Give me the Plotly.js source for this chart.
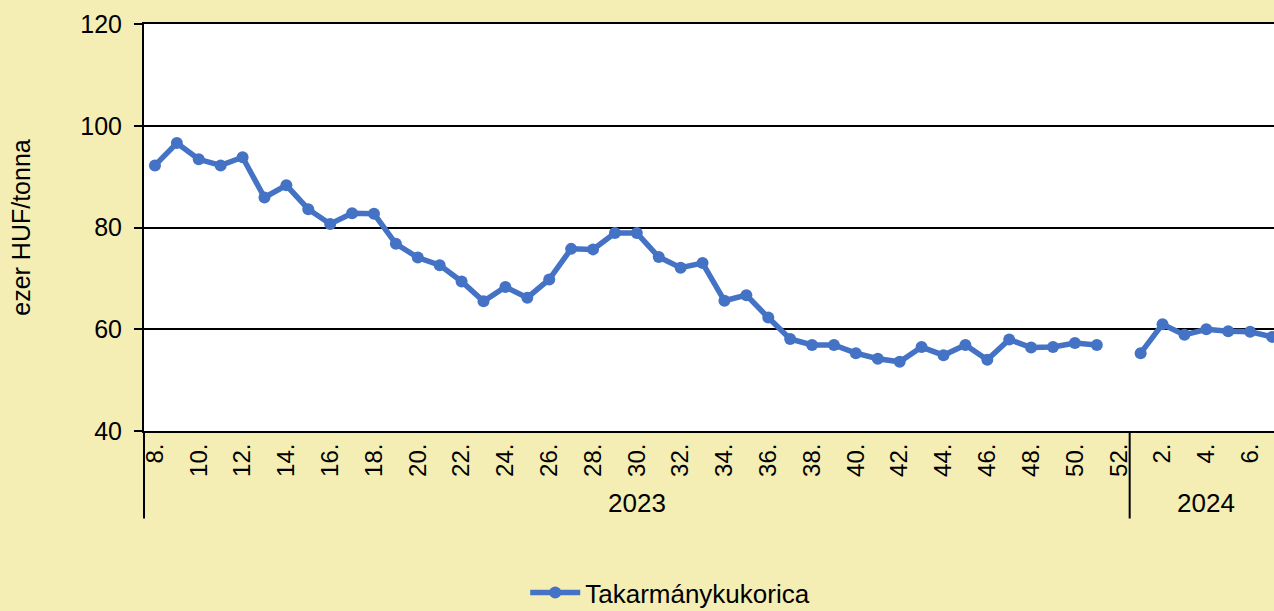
<!DOCTYPE html>
<html>
<head>
<meta charset="utf-8">
<script src="https://cdn.plot.ly/plotly-3.0.1.min.js"></script>
<style>
html, body { margin: 0; padding: 0; overflow: hidden; background: #F4EEB4; }
#chart { width: 1293px; height: 611px; }
</style>
</head>
<body>
<div id="chart"></div>
<script>
// Categories: year + week
const years2023 = "2023";
const weeks2023 = [8,9,10,11,12,13,14,15,16,17,18,19,20,21,22,23,24,25,26,27,28,29,30,31,32,33,34,35,36,37,38,39,40,41,42,43,44,45,46,47,48,49,50,51,52];
const values2023 = [92.2,96.6,93.4,92.2,93.8,85.9,88.3,83.6,80.7,82.8,82.7,76.8,74.1,72.6,69.4,65.5,68.3,66.2,69.8,75.8,75.7,78.9,78.9,74.2,72.1,73.0,65.6,66.7,62.3,58.1,56.9,56.9,55.3,54.2,53.6,56.5,54.9,56.9,54.0,58.0,56.4,56.5,57.3,56.9,null];
const years2024 = "2024";
const weeks2024 = [1,2,3,4,5,6,7];
const values2024 = [55.3,61.0,58.9,60.0,59.6,59.5,58.5];
const seriesName = "Takarmánykukorica";
const yTitle = "ezer HUF/tonna";
const yTicks = [40,60,80,100,120];

// Build the combined category sequence
const weeks = weeks2023.concat(weeks2024);
const values = values2023.concat(values2024);
const yearOf = weeks2023.map(() => years2023).concat(weeks2024.map(() => years2024));
const idx = weeks.map((_, i) => i);
const tickIdx = idx.filter(i => weeks[i] % 2 === 0);
const tickText = tickIdx.map(i => weeks[i] + ".");

const groups = [years2023, years2024].map(y => {
  const ii = idx.filter(i => yearOf[i] === y);
  return { year: y, center: (ii[0] + ii[ii.length - 1]) / 2, start: ii[0] - 0.5 };
});

const FONT = "Liberation Sans, Arial, sans-serif";
const trace = {
  x: idx, y: values, type: "scatter", mode: "lines+markers",
  name: seriesName, connectgaps: false,
  line: { color: "#4472C4", width: 5.5 },
  marker: { color: "#4472C4", size: 12 },
  cliponaxis: true
};

const annotations = groups.map(g => ({
  x: g.center, xref: "x", y: -0.178, yref: "paper",
  text: g.year, showarrow: false, xanchor: "center", yanchor: "middle",
  font: { family: FONT, size: 26, color: "#000" }
}));

const shapes = [
  { type: "line", xref: "paper", yref: "paper", x0: 0, x1: 0, y0: 0, y1: -0.215, line: { color: "#000", width: 2 } }
].concat(groups.slice(1).map(g => ({
  type: "line", xref: "x", yref: "paper", x0: g.start, x1: g.start, y0: 0, y1: -0.215,
  line: { color: "#000", width: 2 }
})));

const layout = {
  width: 1293, height: 611,
  margin: { l: 144, r: 10, t: 24, b: 180, autoexpand: false },
  paper_bgcolor: "#F4EEB4", plot_bgcolor: "#FFFFFF",
  font: { family: FONT, color: "#000" },
  showlegend: true,
  legend: {
    orientation: "h", x: 0.462, xanchor: "center", y: -0.397, yanchor: "middle",
    itemwidth: 50,
    font: { family: FONT, size: 26, color: "#000" }, bgcolor: "rgba(0,0,0,0)"
  },
  xaxis: {
    range: [-0.5, idx.length - 0.5], tickmode: "array", tickvals: tickIdx, ticktext: tickText,
    tickangle: -90, ticks: "", ticklabelstandoff: 1, showgrid: false, zeroline: false,
    showline: true, linecolor: "#000", linewidth: 2, mirror: true, automargin: false,
    tickfont: { family: FONT, size: 24, color: "#000" }, fixedrange: true
  },
  yaxis: {
    range: [40, 120], tickmode: "array", tickvals: yTicks,
    ticks: "outside", ticklen: 8, tickwidth: 2, tickcolor: "#000",
    ticklabelstandoff: 7, automargin: false,
    showgrid: true, gridcolor: "#000", gridwidth: 2, zeroline: false,
    showline: true, linecolor: "#000", linewidth: 2,
    tickfont: { family: FONT, size: 25, color: "#000" },
    title: { text: yTitle, standoff: 43, font: { family: FONT, size: 25, color: "#000" } },
    fixedrange: true
  },
  annotations: annotations,
  shapes: shapes
};

Plotly.newPlot("chart", [trace], layout, { displayModeBar: false, staticPlot: true });
</script>
</body>
</html>
